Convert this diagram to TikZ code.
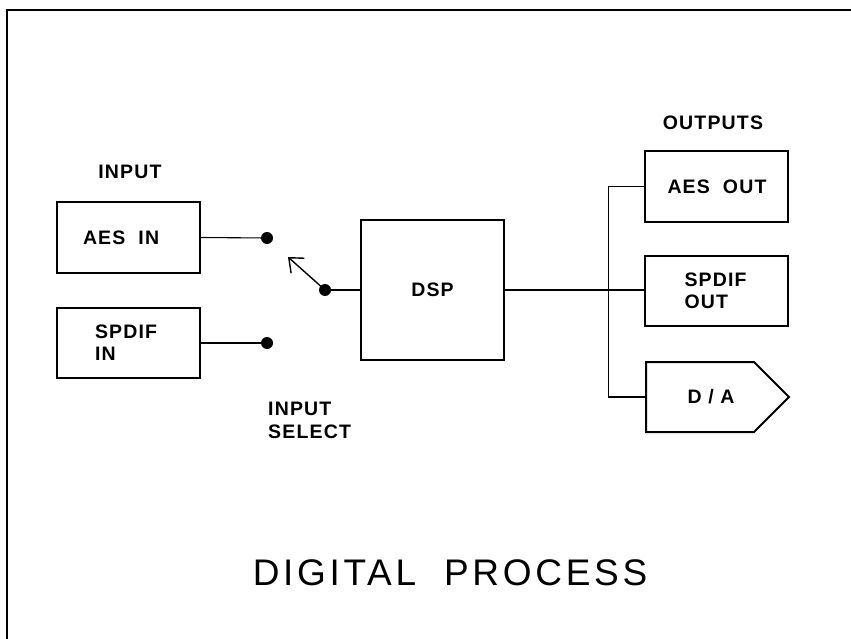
\documentclass[tikz,border=0pt]{standalone}
\usepackage{fontspec}
\setmainfont[LetterSpace=10]{Liberation Sans}
\newfontfamily\labfont[LetterSpace=6]{Liberation Sans Bold}
\usetikzlibrary{arrows.meta,shapes.symbols}

\tikzset{
  blk/.style={draw, line width=2pt, minimum width=143pt, minimum height=70pt,
    inner sep=0pt, font=\labfont\fontsize{19.5}{22}\selectfont},
  lft/.style 2 args={inner xsep=#1, text width=#2, align=left},
  lab/.style={font=\labfont\fontsize{19.5}{23}\selectfont, inner sep=0pt},
  wire/.style={line width=1.1pt},
  tap/.style={circle, fill=black, inner sep=0pt, minimum size=12pt},
}

\begin{document}
\begin{tikzpicture}[x=1pt, y=-1pt]
		%%%%% START %%%%%
		\useasboundingbox (0,0) rectangle (851,639);
		
		% frame
		\draw[line width=2.5pt] (7,639) -- (7,10) -- (851,10);
		
		% inputs
		\node[lab] (inlab) at (130,172) {INPUT};
		\node[blk, lft={26pt}{91pt}] (aesin) at (128.5,237.5) {AES~~IN};
		\node[blk, lft={38pt}{67pt}] (spdifin) at (128.5,343) {SPDIF\\IN};
		
		% input select switch
		\node[tap] (ta) at (267,238) {};
		\node[tap] (tb) at (267,343) {};
		\node[tap] (pivot) at (325,290) {};
		\coordinate (armtip) at (288,257);
		\node[lab, anchor=west, align=left] (sellab) at (268,420) {INPUT\\SELECT};
		
		\draw[wire] (aesin.east) -- (ta);
		\draw[wire] (spdifin.east) -- (tb);
		\draw[line width=1.4pt, -{Straight Barb[length=12pt, width=20pt, line width=1.4pt]}] (pivot.center) -- (armtip);
		
		% processor
		\node[blk, minimum height=140pt] (dsp) at (432.5,290) {DSP};
		\draw[wire] (pivot) -- (dsp.west);
		
		% outputs
		\node[lab] (outlab) at (713,123) {OUTPUTS};
		\node[blk, lft={23pt}{97pt}] (aesout) at (716,186.5) {AES~~OUT};
		\node[blk, lft={40pt}{63pt}] (spdifout) at (716,291) {SPDIF\\OUT};
		\node[blk, signal, signal to=east, signal pointer angle=90, anchor=west] (da) at (645,397) {\hspace*{22pt}D~/~A};
		
		\draw[wire] (dsp.east) -- (dsp.east -| spdifout.west);
		\draw[wire] (aesout.west) -- ++(-35,0) |- (da.west);
		
		% title
		\node[font=\fontsize{37}{44}\selectfont, inner sep=0pt] (title) at (450,573) {DIGITAL~~PROCESS};
		
		%%%%% END %%%%%
	\end{tikzpicture}
\end{document}
